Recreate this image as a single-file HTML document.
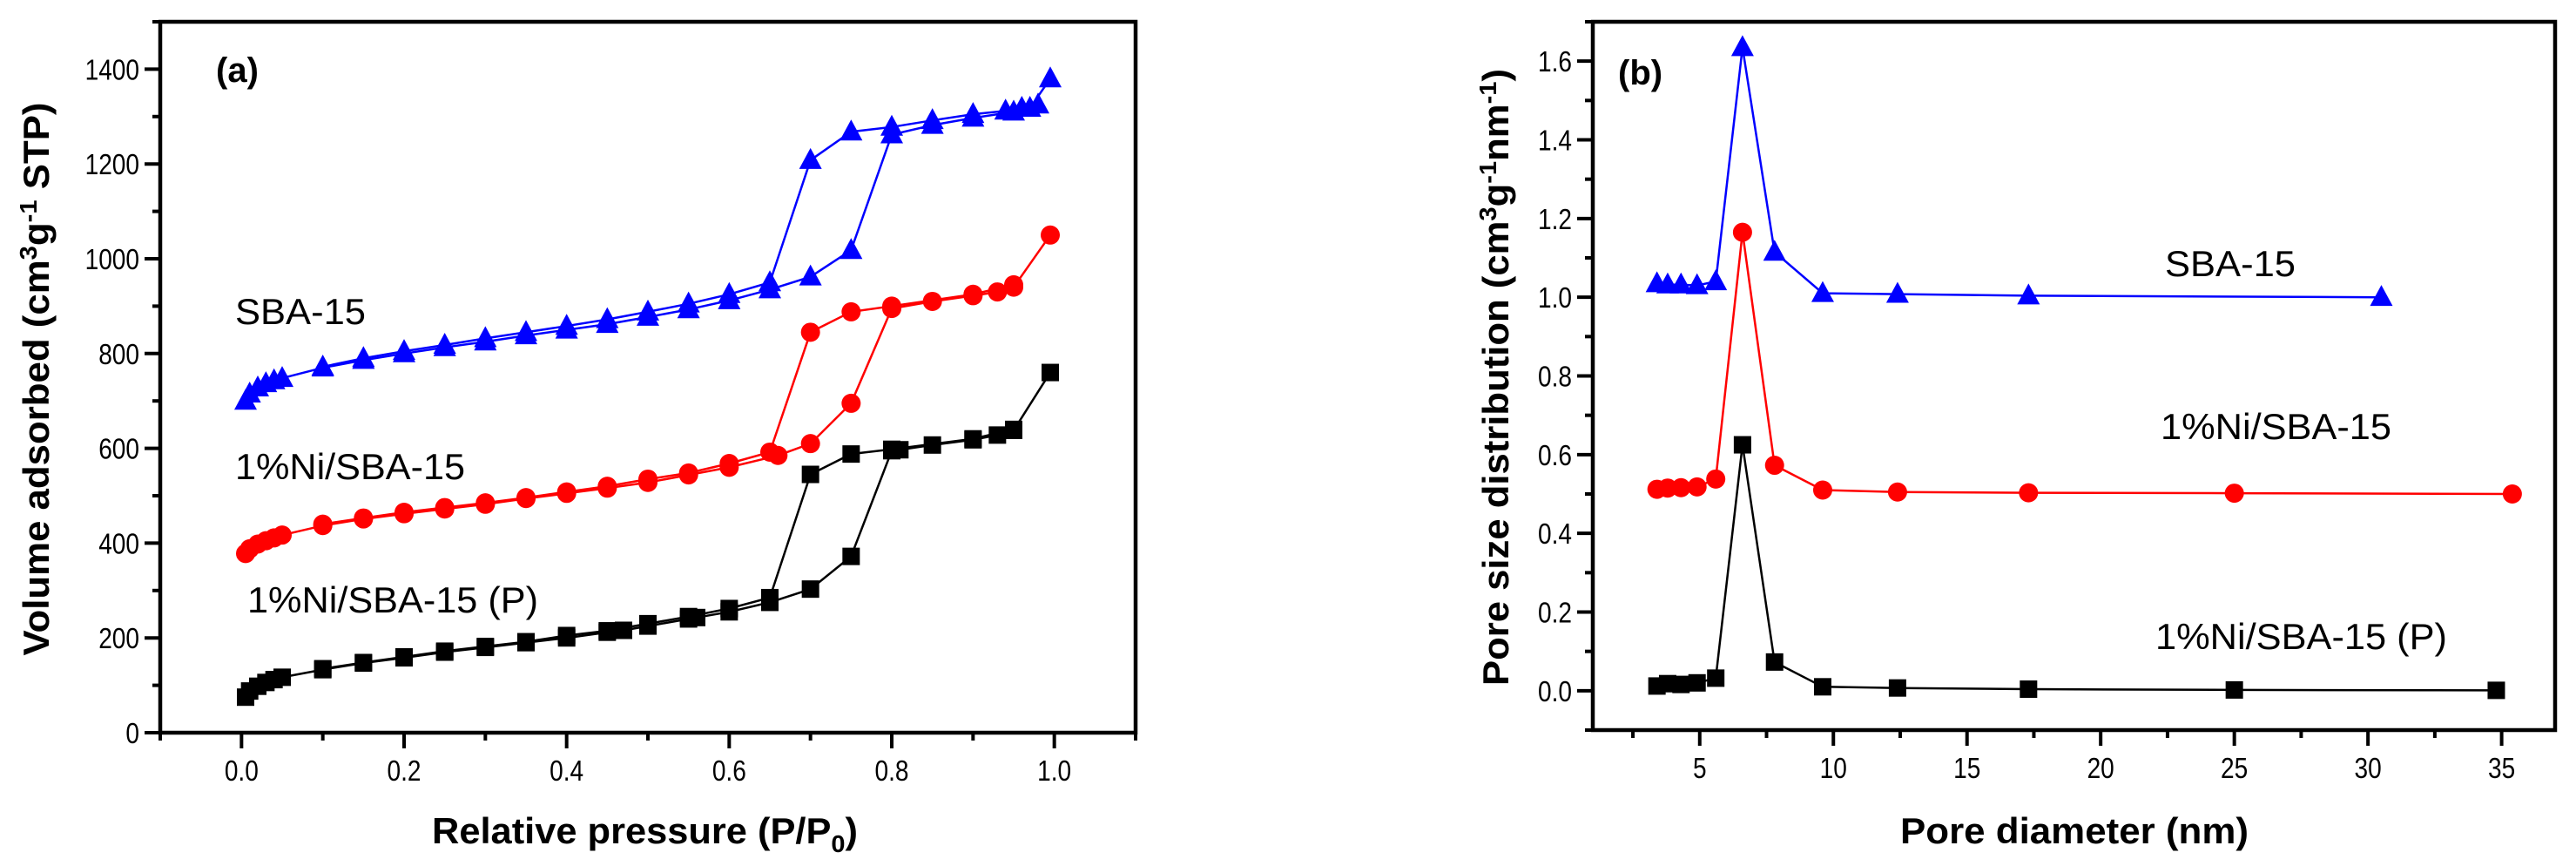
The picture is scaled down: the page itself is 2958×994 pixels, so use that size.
<!DOCTYPE html>
<html><head><meta charset="utf-8"><style>
html,body{margin:0;padding:0;background:#fff}
svg{display:block}
text{font-family:"Liberation Sans",sans-serif}
</style></head><body>
<svg id="fig" width="2958" height="994" viewBox="0 0 2958 994" xmlns="http://www.w3.org/2000/svg"></svg>
<script>
// ---- Panel (a) data: isotherms ----
const sbaAdsP=[0.005,0.01,0.02,0.03,0.04,0.05,0.1,0.15,0.2,0.25,0.3,0.35,0.4,0.45,0.5,0.55,0.6,0.65,0.7,0.75,0.8,0.85,0.9,0.95,0.97,0.995];
const sbaAdsV=[700,715,728,737,743,748,770,786,800,813,825,838,850,862,877,893,912,935,962,1018,1262,1282,1297,1310,1318,1380];
const sbaDesP=[0.98,0.96,0.94,0.9,0.85,0.8,0.75,0.7,0.65,0.6,0.55,0.5,0.45,0.4,0.35,0.3,0.25,0.2,0.15,0.1];
const sbaDesV=[1325,1318,1312,1305,1292,1278,1268,1208,950,925,905,888,872,858,845,832,818,805,790,772];
const niAdsP=[0.005,0.01,0.02,0.03,0.04,0.05,0.1,0.15,0.2,0.25,0.3,0.35,0.4,0.45,0.5,0.55,0.6,0.66,0.7,0.75,0.8,0.85,0.9,0.93,0.95,0.995];
const niAdsV=[378,388,398,405,411,417,437,451,462,472,482,494,505,516,528,544,560,585,610,695,895,910,922,930,940,1050];
const niDesP=[0.95,0.9,0.8,0.75,0.7,0.65,0.6,0.55,0.5,0.45,0.4,0.35,0.3,0.25,0.2,0.15,0.1];
const niDesV=[945,925,900,888,845,592,568,548,535,520,508,496,485,475,465,453,440];
const niPAdsP=[0.005,0.01,0.02,0.03,0.04,0.05,0.1,0.15,0.2,0.25,0.3,0.35,0.4,0.45,0.47,0.5,0.55,0.56,0.6,0.65,0.7,0.75,0.8,0.81,0.85,0.9,0.93,0.95,0.995];
const niPAdsV=[75,88,98,106,112,117,133,147,158,170,180,190,200,212,216,225,240,243,255,275,303,372,595,597,607,618,628,638,760];
const niPDesP=[0.95,0.9,0.8,0.75,0.7,0.65,0.6,0.55,0.5,0.45,0.4,0.35,0.3,0.25,0.2,0.15,0.1];
const niPDesV=[640,620,598,588,545,285,262,245,230,215,205,192,182,172,160,148,135];
const aXTicks=["0.0","0.2","0.4","0.6","0.8","1.0"];
const aYTicks=["0","200","400","600","800","1000","1200","1400"];
// ---- Panel (b) data: pore size distribution ----
const sbaD=[3.4,3.8,4.3,4.9,5.6,6.6,7.8,9.6,12.4,17.3,30.5];
const sbaPSD=[1.035,1.032,1.032,1.03,1.04,1.635,1.115,1.01,1.008,1.004,1.0];
const niD=[3.4,3.8,4.3,4.9,5.6,6.6,7.8,9.6,12.4,17.3,25,35.4];
const niPSD=[0.512,0.515,0.516,0.518,0.538,1.165,0.573,0.51,0.505,0.503,0.502,0.50];
const niPD=[3.4,3.8,4.3,4.9,5.6,6.6,7.8,9.6,12.4,17.3,25,34.8];
const niPPSD=[0.012,0.018,0.016,0.02,0.032,0.625,0.073,0.01,0.007,0.004,0.002,0.001];
const bXTicks=["5","10","15","20","25","30","35"];
const bYTicks=["0.0","0.2","0.4","0.6","0.8","1.0","1.2","1.4","1.6"];

const NS="http://www.w3.org/2000/svg";
const svg=document.getElementById('fig');
function mk(tag,attrs,parent){const e=document.createElementNS(NS,tag);for(const k in attrs)e.setAttribute(k,attrs[k]);(parent||svg).appendChild(e);return e;}
function txt(s,attrs,parent){const e=mk('text',attrs,parent);e.textContent=s;return e;}

// panel (a) axes
const A={l:184,r:1304,t:25,b:841,x0:-0.1,x1:1.1,y0:0,y1:1500};
const B={l:1829,r:2934,t:25,b:838,x0:1,x1:37,y0:-0.1,y1:1.7};
function sx(P,v){return P.l+(v-P.x0)/(P.x1-P.x0)*(P.r-P.l);}
function sy(P,v){return P.b-(v-P.y0)/(P.y1-P.y0)*(P.b-P.t);}

function drawFrame(P,name){
  const g=mk('g',{});
  
  
  mk('rect',{x:P.l,y:P.t,width:P.r-P.l,height:P.b-P.t,fill:'none',stroke:'#000','stroke-width':4.5},g);
  return g;
}
function marker(g,shape,x,y,color){
  let m;
  if(shape==='tri'){m=mk('polygon',{points:`${x},${y-14} ${x-13},${y+10} ${x+13},${y+10}`,fill:color},g);}
  else if(shape==='circ'){m=mk('circle',{cx:x,cy:y,r:11,fill:color},g);}
  else {m=mk('rect',{x:x-10,y:y-10,width:20,height:20,fill:color},g);}
  return m;
}
function series(P,xs,ys,color,shape,name){
  const g=mk('g',{});
  
  
  const pts=xs.map((x,i)=>sx(P,x).toFixed(1)+','+sy(P,ys[i]).toFixed(1)).join(' ');
  mk('polyline',{points:pts,fill:'none',stroke:color,'stroke-width':2.5},g);
  xs.forEach((x,i)=>{const m=marker(g,shape,sx(P,x),sy(P,ys[i]),color);
    
    });
}

// ---- panel (a) ticks ----
const ga=drawFrame(A,'panel-a');
aXTicks.forEach(t=>{const v=parseFloat(t);const x=sx(A,v);
  mk('line',{x1:x,y1:A.b,x2:x,y2:A.b+18,stroke:'#000','stroke-width':4},ga);
  const lb=txt(t,{x:x,y:A.b+55,'font-size':33,'text-anchor':'middle',transform:`translate(${x},0) scale(0.85,1) translate(${-x},0)`},ga);
  
  
});
for(let v=-0.1;v<=1.1001;v+=0.2){const x=sx(A,v);mk('line',{x1:x,y1:A.b,x2:x,y2:A.b+9,stroke:'#000','stroke-width':4},ga);}
aYTicks.forEach(t=>{const v=parseFloat(t);const y=sy(A,v);
  mk('line',{x1:A.l,y1:y,x2:A.l-18,y2:y,stroke:'#000','stroke-width':4},ga);
  const lb=txt(t,{x:A.l-24,y:y+12,'font-size':33,'text-anchor':'end',transform:`translate(${A.l-24},0) scale(0.85,1) translate(${-(A.l-24)},0)`},ga);
  
  
});
for(let v=100;v<=1500;v+=200){const y=sy(A,v);mk('line',{x1:A.l,y1:y,x2:A.l-9,y2:y,stroke:'#000','stroke-width':4},ga);}

series(A,sbaAdsP,sbaAdsV,'#0000ff','tri','sba15-adsorption');
series(A,sbaDesP,sbaDesV,'#0000ff','tri','sba15-desorption');
series(A,niAdsP,niAdsV,'#ff0000','circ','ni-sba15-adsorption');
series(A,niDesP,niDesV,'#ff0000','circ','ni-sba15-desorption');
series(A,niPAdsP,niPAdsV,'#000000','sq','ni-sba15-p-adsorption');
series(A,niPDesP,niPDesV,'#000000','sq','ni-sba15-p-desorption');

// ---- panel (b) ticks ----
const gb=drawFrame(B,'panel-b');
bXTicks.forEach(t=>{const v=parseFloat(t);const x=sx(B,v);
  mk('line',{x1:x,y1:B.b,x2:x,y2:B.b+18,stroke:'#000','stroke-width':4},gb);
  const lb=txt(t,{x:x,y:B.b+55,'font-size':33,'text-anchor':'middle',transform:`translate(${x},0) scale(0.85,1) translate(${-x},0)`},gb);
  
  
});
for(let v=2.5;v<=37;v+=5){const x=sx(B,v);mk('line',{x1:x,y1:B.b,x2:x,y2:B.b+9,stroke:'#000','stroke-width':4},gb);}
bYTicks.forEach(t=>{const v=parseFloat(t);const y=sy(B,v);
  mk('line',{x1:B.l,y1:y,x2:B.l-18,y2:y,stroke:'#000','stroke-width':4},gb);
  const lb=txt(t,{x:B.l-24,y:y+12,'font-size':33,'text-anchor':'end',transform:`translate(${B.l-24},0) scale(0.85,1) translate(${-(B.l-24)},0)`},gb);
  
  
});
for(let v=-0.1;v<=1.7001;v+=0.2){const y=sy(B,v);mk('line',{x1:B.l,y1:y,x2:B.l-9,y2:y,stroke:'#000','stroke-width':4},gb);}

series(B,sbaD,sbaPSD,'#0000ff','tri','sba15-psd');
series(B,niD,niPSD,'#ff0000','circ','ni-sba15-psd');
series(B,niPD,niPPSD,'#000000','sq','ni-sba15-p-psd');
</script>
<svg style="position:absolute;left:0;top:0" width="2958" height="994" xmlns="http://www.w3.org/2000/svg">
<g font-family="Liberation Sans, sans-serif" fill="#000">
<text x="496" y="968" font-size="42" font-weight="bold" textLength="489" lengthAdjust="spacingAndGlyphs">Relative pressure (P/P<tspan font-size="28" dy="10">0</tspan><tspan dy="-10">)</tspan></text>
<text transform="translate(56,435) rotate(-90)" text-anchor="middle" font-size="42" font-weight="bold" textLength="635" lengthAdjust="spacingAndGlyphs">Volume adsorbed (cm<tspan font-size="28" dy="-14">3</tspan><tspan dy="14">g</tspan><tspan font-size="28" dy="-14">-1</tspan><tspan dy="14"> STP)</tspan></text>
<text x="248" y="94" font-size="40" font-weight="bold">(a)</text>
<text x="270" y="372" font-size="42" textLength="150" lengthAdjust="spacingAndGlyphs">SBA-15</text>
<text x="270" y="550" font-size="42" textLength="264" lengthAdjust="spacingAndGlyphs">1%Ni/SBA-15</text>
<text x="284" y="703" font-size="42" textLength="334" lengthAdjust="spacingAndGlyphs">1%Ni/SBA-15 (P)</text>
<text x="2182" y="968" font-size="42" font-weight="bold" textLength="400" lengthAdjust="spacingAndGlyphs">Pore diameter (nm)</text>
<text transform="translate(1732,433) rotate(-90)" text-anchor="middle" font-size="42" font-weight="bold" textLength="708" lengthAdjust="spacingAndGlyphs">Pore size distribution (cm<tspan font-size="28" dy="-14">3</tspan><tspan dy="14">g</tspan><tspan font-size="28" dy="-14">-1</tspan><tspan dy="14">nm</tspan><tspan font-size="28" dy="-14">-1</tspan><tspan dy="14">)</tspan></text>
<text x="1858" y="97" font-size="40" font-weight="bold">(b)</text>
<text x="2486" y="317" font-size="42" textLength="150" lengthAdjust="spacingAndGlyphs">SBA-15</text>
<text x="2481" y="504" font-size="42" textLength="265" lengthAdjust="spacingAndGlyphs">1%Ni/SBA-15</text>
<text x="2475" y="745" font-size="42" textLength="335" lengthAdjust="spacingAndGlyphs">1%Ni/SBA-15 (P)</text>
</g>
</svg>
</body></html>
